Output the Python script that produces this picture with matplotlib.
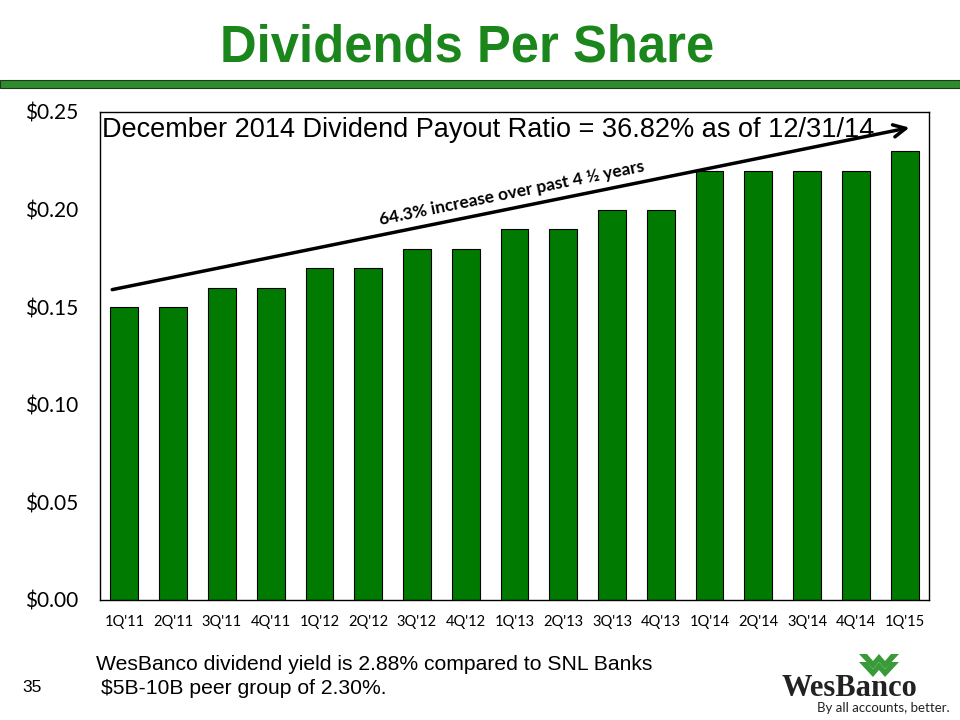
import matplotlib
matplotlib.use("Agg")
import matplotlib.pyplot as plt
from matplotlib.patches import Rectangle, Polygon

quarters = ["1Q'11", "2Q'11", "3Q'11", "4Q'11", "1Q'12", "2Q'12", "3Q'12", "4Q'12",
            "1Q'13", "2Q'13", "3Q'13", "4Q'13", "1Q'14", "2Q'14", "3Q'14", "4Q'14", "1Q'15"]
dividends = [0.15, 0.15, 0.16, 0.16, 0.17, 0.17, 0.18, 0.18,
             0.19, 0.19, 0.20, 0.20, 0.22, 0.22, 0.22, 0.22, 0.23]
yticks = [0.00, 0.05, 0.10, 0.15, 0.20, 0.25]
ytick_labels = ["$0.00", "$0.05", "$0.10", "$0.15", "$0.20", "$0.25"]

# trend arrow ends (x in bar index, y in $)
arrow_start = (-0.25, 0.159)
arrow_end = (16.1, 0.242)

GREEN = "#007A00"
TITLE_GREEN = "#1B861B"

fig = plt.figure(figsize=(9.6, 7.2), dpi=100)
fig.patch.set_facecolor("white")

# title and green rule
fig.text(0.487, 0.934, "Dividends Per Share", ha="center", va="center",
         fontsize=36.5, fontweight="bold", color=TITLE_GREEN, family="Liberation Sans")
fig.patches.append(Rectangle((0.0, 1 - 88 / 720), 1.0, 8 / 720, transform=fig.transFigure,
                             facecolor="#2E8B2E", edgecolor="#1a3a1a", linewidth=0.8))

ax = fig.add_axes([100 / 960, 120 / 720, 829 / 960, 488 / 720])
ax.bar(range(len(quarters)), dividends, width=0.57, color=GREEN,
       edgecolor="black", linewidth=0.8)
ax.set_xlim(-0.5, len(quarters) - 0.5)
ax.set_ylim(0, 0.25)
ax.set_yticks(yticks)
ax.set_yticklabels(ytick_labels, family="Lato", fontsize=15)
ax.set_xticks(range(len(quarters)))
ax.set_xticklabels(quarters, family="Lato", fontsize=10.5)
ax.tick_params(axis="y", length=0, pad=16)
ax.tick_params(axis="x", length=0, pad=11)
for s in ax.spines.values():
    s.set_linewidth(1.0)
    s.set_color("black")

ax.text(0.002, 0.99, "December 2014 Dividend Payout Ratio = 36.82% as of 12/31/14",
        transform=ax.transAxes, ha="left", va="top", fontsize=19.5, family="Liberation Sans")

ax.annotate("", xy=arrow_end, xytext=arrow_start,
            arrowprops=dict(arrowstyle="->", lw=2.5, color="black",
                            mutation_scale=22, shrinkA=0, shrinkB=0))
ax.text(7.95, 0.2085, "64.3% increase over past 4 \u00bd years", rotation=11.5,
        ha="center", va="center", fontsize=12.5, fontweight="bold", family="Lato",
        rotation_mode="anchor")

# footnote
fig.text(96 / 960, 1 - 665 / 720, "WesBanco dividend yield is 2.88% compared to SNL Banks",
         ha="left", va="center", fontsize=15.2, family="Liberation Sans")
fig.text(101 / 960, 1 - 689 / 720, "$5B-10B peer group of 2.30%.",
         ha="left", va="center", fontsize=15.2, family="Liberation Sans")
fig.text(22 / 960, 1 - 687 / 720, "35", ha="left", va="center",
         fontsize=12.5, family="Liberation Sans")

# logo
for dy in (0, 8):
    pts = [(859, 654 + dy), (867, 654 + dy), (873, 661 + dy), (879, 654 + dy),
           (885, 661 + dy), (891, 654 + dy), (899, 654 + dy), (885, 669 + dy),
           (879, 662 + dy), (873, 669 + dy)]
    fig.patches.append(Polygon([(x / 960, 1 - y / 720) for x, y in pts], closed=True,
                               transform=fig.transFigure, facecolor="#3A9A3A",
                               edgecolor="none"))
fig.text(850 / 960, 1 - 689 / 720, "WesBanco", ha="center", va="center",
         fontsize=22, fontweight="bold", family="Liberation Serif", color="#222222")
fig.text(950 / 960, 1 - 708 / 720, "By all accounts, better.", ha="right", va="center",
         fontsize=9.5, family="Lato", color="#222222")

fig.savefig("out.png", dpi=100)
